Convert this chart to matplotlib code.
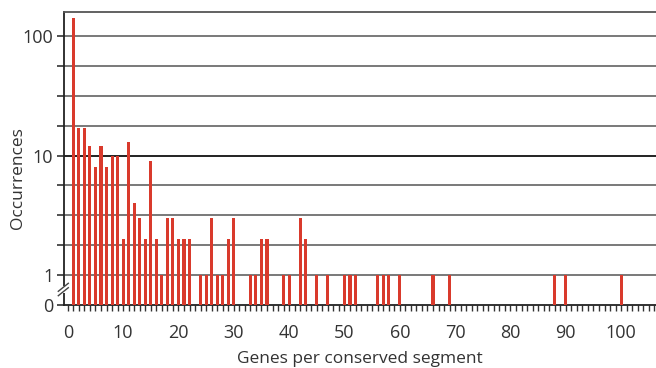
import matplotlib
matplotlib.use("Agg")
import matplotlib.pyplot as plt
from matplotlib.lines import Line2D
from matplotlib.patches import Rectangle
import numpy as np

plt.rcParams['font.family'] = ['Open Sans', 'DejaVu Sans']

# Data: genes per conserved segment -> occurrences
genes = [1, 2, 3, 4, 5, 6, 7, 8, 9, 10, 11, 12, 13, 14, 15, 16, 17, 18, 19, 20,
         21, 22, 24, 25, 26, 27, 28, 29, 30, 33, 34, 35, 36, 39, 40, 42, 43, 45,
         47, 50, 51, 52, 56, 57, 58, 60, 66, 69, 88, 90, 100]
occurrences = [140, 17, 17, 12, 8, 12, 8, 10, 10, 2, 13, 4, 3, 2, 9, 2, 1, 3, 3, 2,
               2, 2, 1, 1, 3, 1, 1, 2, 3, 1, 1, 2, 2, 1, 1, 3, 2, 1,
               1, 1, 1, 1, 1, 1, 1, 1, 1, 1, 1, 1, 1]
x_ticks = [0, 10, 20, 30, 40, 50, 60, 70, 80, 90, 100]
y_tick_labels = {0: '0', 1: '1', 10: '10', 100: '100'}

W, H = 656, 368
fig = plt.figure(figsize=(W / 100, H / 100), dpi=100)
ax = fig.add_axes([64.3 / W, 1 - 305 / H, 1 - 64.3 / W, (305 - 12) / H])

ybot = 10 ** -0.25
ytop = 10 ** 2.2
ax.set_yscale('log')
ax.set_ylim(ybot, ytop)
ax.set_xlim(-0.63, 106.3)

bar_color = '#d93a2c'
ax.bar(genes, [v - ybot for v in occurrences], bottom=ybot, width=0.55,
       color=bar_color, zorder=3)

# gridlines (quarter decades)
grid_levels = [10 ** (k / 4) for k in range(0, 9)]
for g in grid_levels:
    c = '#111111' if abs(g - 10) < 1e-6 else '#6e6e6e'
    ax.axhline(g, color=c, lw=1.3, zorder=1)

# y ticks
yt = [ybot] + grid_levels
ylabels = []
for v in yt:
    lab = ''
    for kk, s in y_tick_labels.items():
        if (kk == 0 and v == ybot) or (kk != 0 and abs(v - kk) < 1e-6):
            lab = s
    ylabels.append(lab)
ax.set_yticks(yt)
ax.set_yticklabels(ylabels)
ax.yaxis.set_minor_locator(matplotlib.ticker.NullLocator())
ax.tick_params(axis='y', which='major', length=5, width=1.2, color='#333333',
               labelsize=13, labelcolor='#333333', pad=3)

# x ticks
ax.set_xticks(x_ticks)
ax.set_xticklabels([str(t) for t in x_ticks])
ax.set_xticks(np.arange(0, 107, 1), minor=True)
ax.tick_params(axis='x', which='both', length=4, width=1.0, color='#333333',
               direction='out')
ax.tick_params(axis='x', which='major', labelsize=13, labelcolor='#333333', pad=10)

ax.spines['right'].set_visible(False)
ax.spines['top'].set_color('#555555')
ax.spines['top'].set_linewidth(1.3)
ax.spines['left'].set_color('#222222')
ax.spines['left'].set_linewidth(1.3)
ax.spines['bottom'].set_color('#222222')
ax.spines['bottom'].set_linewidth(1.3)

ax.set_xlabel('Genes per conserved segment', fontsize=12.5, color='#333333', labelpad=6)
fig.text(18 / W, 1 - 178 / H, 'Occurrences', rotation=90, ha='center', va='center',
         fontsize=12.5, color='#333333')

# axis break mark on the y axis
tr = fig.dpi_scale_trans
cx, cy = 64.3, 289.5
fig.patches.append(Rectangle(((cx - 3) / 100, (H - cy - 3.5) / 100), 6 / 100, 7 / 100,
                             transform=tr, facecolor='white', edgecolor='none',
                             zorder=10))
for dy in (-2.2, 2.2):
    x0, y0 = cx - 5, cy + 4 + dy
    x1, y1 = cx + 5, cy - 4 + dy
    fig.lines.append(Line2D([(x0 - 1) / 100, (x1 - 1) / 100],
                            [(H - y0) / 100, (H - y1) / 100],
                            transform=tr, color='#444444', lw=1.0, zorder=11))

fig.savefig('out.png', dpi=100)
